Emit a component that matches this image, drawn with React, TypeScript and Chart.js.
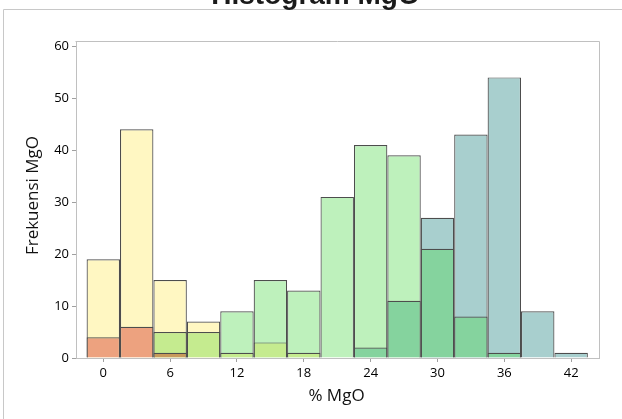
import React, { useEffect, useRef } from "react";
import { Chart, registerables } from "chart.js";

Chart.register(...registerables);

const binCenters = [0, 3, 6, 9, 12, 15, 18, 21, 24, 27, 30, 33, 36, 39, 42];
const xTickValues = [0, 6, 12, 18, 24, 30, 36, 42];
const yTickValues = [0, 10, 20, 30, 40, 50, 60];

const yellowCounts = [19, 44, 15, 7, null, null, null, null, null, null, null, null, null, null, null];
const salmonCounts = [4, 6, null, null, null, null, null, null, null, null, null, null, null, null, null];
const brownCounts = [null, null, 1, null, null, null, null, null, null, null, null, null, null, null, null];
const limeCounts = [null, null, 5, 5, 1, 3, 1, null, null, null, null, null, null, null, null];
const lightGreenCounts = [null, null, null, null, 9, 15, 13, 31, 41, 39, null, null, null, null, null];
const mediumGreenCounts = [null, null, null, null, null, null, null, null, 2, 11, 21, 8, 1, null, null];
const tealCounts = [null, null, null, null, null, null, null, null, null, null, 27, 43, 54, 9, 1];

const FONT = '"Open Sans", "Noto Sans", sans-serif';

const framePlugin = {
  id: "framePlugin",
  beforeDraw(chart: any) {
    const ctx = chart.ctx;
    ctx.save();
    ctx.fillStyle = "#ffffff";
    ctx.fillRect(0, 0, chart.width, chart.height);
    ctx.strokeStyle = "#c8c8c8";
    ctx.lineWidth = 1;
    ctx.beginPath();
    ctx.moveTo(3.5, chart.height);
    ctx.lineTo(3.5, 9.5);
    ctx.lineTo(chart.width, 9.5);
    ctx.stroke();
    ctx.restore();
  },
  afterDraw(chart: any) {
    const ctx = chart.ctx;
    const a = chart.chartArea;
    ctx.save();
    ctx.strokeStyle = "#c0c0c0";
    ctx.lineWidth = 1;
    ctx.beginPath();
    ctx.moveTo(Math.round(a.left) - 0.5, Math.round(a.top) + 0.5);
    ctx.lineTo(Math.round(a.right) + 0.5, Math.round(a.top) + 0.5);
    ctx.lineTo(Math.round(a.right) + 0.5, Math.round(a.bottom));
    ctx.stroke();
    // main title (partly cut off at top)
    ctx.fillStyle = "#1a1a1a";
    ctx.font = 'bold 28px "Liberation Sans", Arial, sans-serif';
    ctx.textAlign = "center";
    ctx.textBaseline = "alphabetic";
    ctx.fillText("Histogram MgO", 315.5, 4);
    // axis titles
    ctx.font = "17px " + FONT;
    ctx.fillStyle = "#111111";
    ctx.fillText("% MgO", 336.5, 401);
    ctx.translate(38, 195.5);
    ctx.rotate(-Math.PI / 2);
    ctx.fillText("Frekuensi MgO", 0, 0);
    ctx.restore();
  },
};

export default function App() {
  const ref = useRef<HTMLCanvasElement>(null);

  useEffect(() => {
    document.body.style.margin = "0";
    const toPts = (arr: (number | null)[]) => binCenters.map((x, i) => ({ x, y: arr[i] }));
    const border = "#4d4d4d";
    const mk = (label: string, arr: (number | null)[], color: string) => ({
      label,
      data: toPts(arr),
      backgroundColor: color,
      borderColor: border,
      borderWidth: 1.2,
      borderSkipped: "start",
      grouped: false,
      barPercentage: 1,
      categoryPercentage: 1,
      inflateAmount: 0,
    });
    const chart = new Chart(ref.current as HTMLCanvasElement, {
      type: "bar",
      data: {
        datasets: [
          mk("brown", brownCounts, "#C89A5B"),
          mk("salmon", salmonCounts, "#EDA27F"),
          mk("lime", limeCounts, "#C5EB8F"),
          mk("mediumGreen", mediumGreenCounts, "#85D39E"),
          mk("yellow", yellowCounts, "#FFF7C2"),
          mk("lightGreen", lightGreenCounts, "#BEF1BC"),
          mk("teal", tealCounts, "#A8CFCE"),
        ] as any,
      },
      options: {
        animation: false,
        responsive: false,
        layout: { padding: { top: 41, right: 23, left: 0, bottom: 0 } },
        plugins: {
          legend: { display: false },
          tooltip: { enabled: false },
          title: { display: false },
        },
        scales: {
          x: {
            type: "linear",
            offset: false,
            min: -2.45,
            max: 44.5,
            afterBuildTicks: (s: any) => {
              s.ticks = xTickValues.map((v) => ({ value: v }));
            },
            afterFit: (s: any) => {
              s.height = 61;
            },
            grid: { display: true, offset: false, drawOnChartArea: false, tickLength: 4, color: "#a0a0a0" },
            border: { display: true, color: "#c0c0c0", width: 1 },
            ticks: {
              autoSkip: false,
              maxRotation: 0,
              padding: 3,
              color: "#000000",
              font: { family: FONT, size: 13 },
            },
          },
          y: {
            type: "linear",
            min: 0,
            max: 61,
            afterBuildTicks: (s: any) => {
              s.ticks = yTickValues.map((v) => ({ value: v }));
            },
            afterFit: (s: any) => {
              s.width = 76;
            },
            grid: { display: true, drawOnChartArea: false, tickLength: 4, color: "#a0a0a0" },
            border: { display: true, color: "#c0c0c0", width: 1 },
            ticks: {
              padding: 3,
              color: "#000000",
              font: { family: FONT, size: 13 },
            },
          },
        },
      } as any,
      plugins: [framePlugin],
    });
    return () => chart.destroy();
  }, []);

  return <canvas ref={ref} width={622} height={419} style={{ display: "block" }} />;
}
